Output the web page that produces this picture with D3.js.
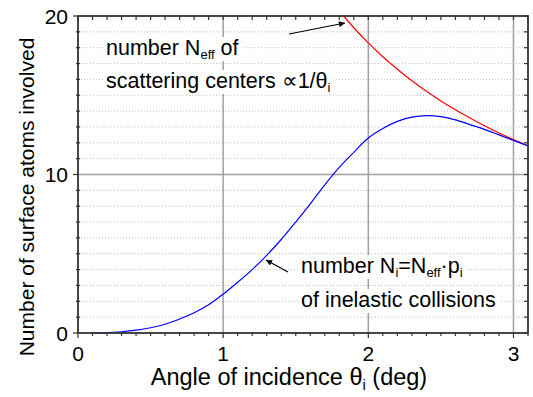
<!DOCTYPE html>
<html>
<head>
<meta charset="utf-8">
<script src="https://cdn.jsdelivr.net/npm/d3@7"></script>
<style>
  body { margin: 0; background: #fff; }
  text { font-family: "Liberation Sans", Arial, sans-serif; }
</style>
</head>
<body>
<div id="chart"></div>
<script>
// values
const thetaRed = [1.83, 1.9, 2.0, 2.1, 2.2, 2.3, 2.4, 2.5, 2.6, 2.7, 2.8, 2.9, 3.0, 3.1];
const nEff = [20.0, 19.26, 18.3, 17.43, 16.64, 15.91, 15.25, 14.64, 14.08, 13.56, 13.07, 12.62, 12.2, 11.81];

const thetaBlue = [0.1, 0.2, 0.3, 0.4, 0.5, 0.6, 0.7, 0.8, 0.9, 1.0, 1.1, 1.2, 1.3, 1.4, 1.5, 1.6,
    1.7, 1.8, 1.9, 2.0, 2.1, 2.2, 2.3, 2.4, 2.5, 2.6, 2.7, 2.8, 2.9, 3.0, 3.1];
const nInel = [0.0, 0.02, 0.08, 0.18, 0.33, 0.55, 0.88, 1.28, 1.78, 2.45, 3.2, 4.0, 4.9, 5.9, 7.0, 8.15,
    9.35, 10.45, 11.4, 12.3, 12.9, 13.35, 13.62, 13.72, 13.65, 13.45, 13.15, 12.85, 12.5, 12.15, 11.8];

const xTicks = [0, 1, 2, 3];
const yTicks = [0, 10, 20];
const xMinor = d3.range(0, 3.1001, 0.1).map(v => +v.toFixed(1));
const yMinor = d3.range(0, 21, 1);

const W = 533, H = 397;
const svg = d3.select("#chart").append("svg")
    .attr("width", W)
    .attr("height", H);

const x = d3.scaleLinear().domain([0, 3.1]).range([78, 528]);
const y = d3.scaleLinear().domain([0, 20]).range([333, 16]);

// grid
svg.append("g")
    .selectAll("line")
    .data(yMinor.filter(d => d % 10 !== 0))
    .join("line")
    .attr("x1", x(0)).attr("x2", x(3.1))
    .attr("y1", d => y(d)).attr("y2", d => y(d))
    .attr("stroke", "#bdbdbd")
    .attr("stroke-width", 1)
    .attr("stroke-dasharray", "1,2");

svg.append("g")
    .selectAll("line")
    .data(xTicks.filter(d => d > 0))
    .join("line")
    .attr("x1", d => x(d)).attr("x2", d => x(d))
    .attr("y1", y(0)).attr("y2", y(20))
    .attr("stroke", "#a0a0a0")
    .attr("stroke-width", 1.5);

svg.append("line")
    .attr("x1", x(0)).attr("x2", x(3.1))
    .attr("y1", y(10)).attr("y2", y(10))
    .attr("stroke", "#a0a0a0")
    .attr("stroke-width", 1.5);

// text labels with white boxes
function label(px, py, parts) {
    const g = svg.append("g");
    const t = g.append("text")
        .attr("x", px).attr("y", py)
        .attr("font-size", 21.5)
        .attr("fill", "#000");
    parts.forEach(p => {
        if (p.sub) {
            t.append("tspan").attr("font-size", 13).attr("baseline-shift", -4).text(p.sub);
        } else {
            t.append("tspan").text(p.t);
        }
    });
    g.insert("rect", "text")
        .attr("x", px - 3).attr("y", py - 18)
        .attr("width", t.node().getComputedTextLength() + 6).attr("height", 24)
        .attr("fill", "#fff");
}

// curves
const line = d3.line().x(d => x(d[0])).y(d => y(d[1])).curve(d3.curveCatmullRom);

svg.append("path")
    .datum(d3.zip(thetaRed, nEff))
    .attr("d", line)
    .attr("fill", "none")
    .attr("stroke", "#ff0000")
    .attr("stroke-width", 1.2);

svg.append("path")
    .datum(d3.zip(thetaBlue, nInel))
    .attr("d", line)
    .attr("fill", "none")
    .attr("stroke", "#0000ff")
    .attr("stroke-width", 1.2);

label(106, 55, [{t: "number N"}, {sub: "eff"}, {t: " of"}]);
label(106, 88, [{t: "scattering centers \u221D1/\u03B8"}, {sub: "i"}]);
label(301, 273, [{t: "number N"}, {sub: "i"}, {t: "=N"}, {sub: "eff"}, {t: "\u00B7p"}, {sub: "i"}]);
label(301, 307, [{t: "of inelastic collisions"}]);

// arrows
svg.append("defs").append("marker")
    .attr("id", "arr")
    .attr("viewBox", "0 0 10 10")
    .attr("refX", 10).attr("refY", 5)
    .attr("markerWidth", 9).attr("markerHeight", 6)
    .attr("markerUnits", "userSpaceOnUse")
    .attr("orient", "auto")
    .append("path")
    .attr("d", "M0,0L10,5L0,10Z")
    .attr("fill", "#000");

svg.append("line")
    .attr("x1", 289).attr("y1", 34).attr("x2", 345).attr("y2", 23)
    .attr("stroke", "#000").attr("stroke-width", 1.2)
    .attr("marker-end", "url(#arr)");

svg.append("line")
    .attr("x1", 288).attr("y1", 272).attr("x2", 266).attr("y2", 260)
    .attr("stroke", "#000").attr("stroke-width", 1.2)
    .attr("marker-end", "url(#arr)");

// axes
const axisColor = "#333";
function ticks(vals, isMajor, fn) {
    svg.append("g").selectAll("line").data(vals).join("line")
        .each(function (d) { fn(d3.select(this), d, isMajor(d)); })
        .attr("stroke", axisColor)
        .attr("stroke-width", 1.2);
}
const majX = d => xTicks.includes(d);
const majY = d => yTicks.includes(d);

ticks(xMinor, majX, (s, d, m) => s.attr("x1", x(d)).attr("x2", x(d))
    .attr("y1", y(0)).attr("y2", y(0) + (m ? 5 : 3)));
ticks(xMinor, majX, (s, d, m) => s.attr("x1", x(d)).attr("x2", x(d))
    .attr("y1", y(20)).attr("y2", y(20) + 4));
ticks(yMinor, majY, (s, d, m) => s.attr("x1", x(0) - (m ? 5 : 2)).attr("x2", x(0) + (m ? 0 : 2))
    .attr("y1", y(d)).attr("y2", y(d)));
ticks(yMinor, majY, (s, d, m) => s.attr("x1", x(3.1) - 4).attr("x2", x(3.1))
    .attr("y1", y(d)).attr("y2", y(d)));

svg.append("rect")
    .attr("x", x(0)).attr("y", y(20))
    .attr("width", x(3.1) - x(0)).attr("height", y(0) - y(20))
    .attr("fill", "none")
    .attr("stroke", axisColor)
    .attr("stroke-width", 1.8);

svg.append("g").selectAll("text").data(xTicks).join("text")
    .attr("x", d => x(d)).attr("y", 361)
    .attr("text-anchor", "middle")
    .attr("font-size", 21)
    .text(d => d);

svg.append("g").selectAll("text").data(yTicks).join("text")
    .attr("x", 68).attr("y", d => y(d) + 7.5)
    .attr("text-anchor", "end")
    .attr("font-size", 21)
    .text(d => d);

const xt = svg.append("text")
    .attr("x", 289).attr("y", 385)
    .attr("text-anchor", "middle")
    .attr("font-size", 23.5);
xt.append("tspan").text("Angle of incidence \u03B8");
xt.append("tspan").attr("font-size", 15).attr("baseline-shift", -5).text("i");
xt.append("tspan").text(" (deg)");

svg.append("text")
    .attr("transform", `translate(34,${197}) rotate(-90)`)
    .attr("text-anchor", "middle")
    .attr("font-size", 21)
    .text("Number of surface atoms involved");
</script>
</body>
</html>
